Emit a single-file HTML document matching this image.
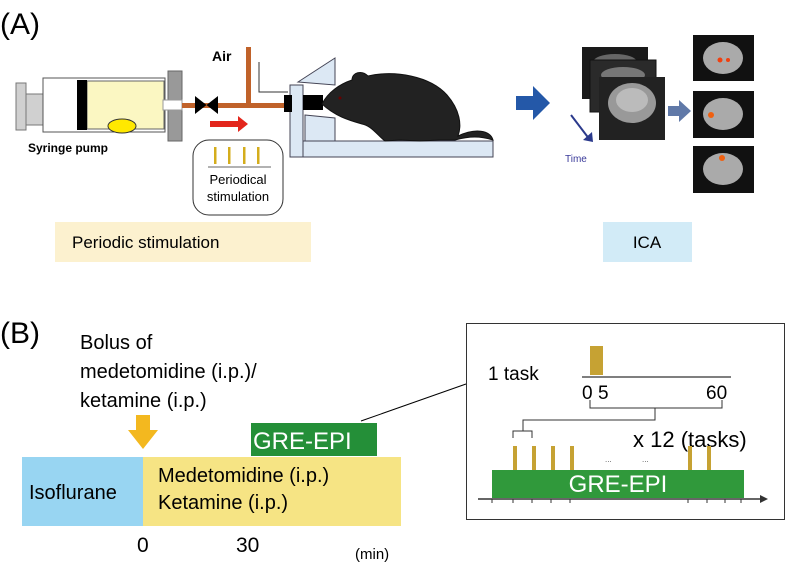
<!DOCTYPE html>
<html><head><meta charset="utf-8"><style>
body{margin:0;background:#fff}
svg{display:block}
text{font-family:"Liberation Sans",Arial,sans-serif}
</style></head><body>
<svg width="788" height="567" viewBox="0 0 788 567" xmlns="http://www.w3.org/2000/svg">
<text x="0" y="34" font-size="30">(A)</text>
<rect x="16" y="83" width="10" height="47" fill="#d0d0d0" stroke="#777"/>
<rect x="26" y="94" width="52" height="31" fill="#d0d0d0" stroke="#777"/>
<rect x="43" y="78" width="122" height="54" fill="#fff" stroke="#555"/>
<rect x="87" y="81" width="77" height="48" fill="#fbf7c2" stroke="#666"/>
<rect x="77" y="80" width="10" height="50" fill="#000"/>
<ellipse cx="122" cy="126" rx="14" ry="7" fill="#ffe800" stroke="#333"/>
<rect x="168" y="71" width="14" height="70" fill="#999" stroke="#666"/>
<rect x="163" y="100" width="19" height="10" fill="#fff" stroke="#999"/>
<text x="28" y="152" font-size="12" font-weight="bold">Syringe pump</text>
<rect x="182" y="103" width="106" height="5" fill="#c0622a"/>
<rect x="246" y="47" width="5" height="58" fill="#c0622a"/>
<polygon points="195,96 195,114 218,96 218,114" fill="#000"/>
<text x="212" y="61" font-size="14" font-weight="bold">Air</text>
<polyline points="259,62 259,92 288,92" fill="none" stroke="#333" stroke-width="1"/>
<polygon points="210,121 238,121 238,116 248,124 238,132 238,127 210,127" fill="#e3261c"/>
<rect x="193" y="140" width="90" height="75" rx="16" fill="#fff" stroke="#333"/>
<g fill="#d4ad1c"><rect x="214" y="147" width="2.5" height="17"/><rect x="228" y="147" width="2.5" height="17"/><rect x="243" y="147" width="2.5" height="17"/><rect x="257" y="147" width="2.5" height="17"/></g>
<line x1="208" y1="167" x2="271" y2="167" stroke="#333" stroke-width="0.8"/>
<text x="238" y="184" font-size="13" text-anchor="middle">Periodical</text>
<text x="238" y="201" font-size="13" text-anchor="middle">stimulation</text>
<polygon points="298,82 335,58 335,85" fill="#dce8f4" stroke="#445"/>
<polygon points="305,115 335,118 335,141 305,141" fill="#dce8f4" stroke="#445"/>
<rect x="290" y="141" width="203" height="16" fill="#dce8f4" stroke="#445"/>
<rect x="290" y="85" width="13" height="72" fill="#dce8f4" stroke="#445"/>
<rect x="284" y="95" width="8" height="17" fill="#000"/>
<rect x="303" y="95" width="20" height="15" fill="#000"/>
<path d="M322,104 C328,92 340,84 352,80 C352,72 362,70 368,76 C395,70 430,76 447,95 C460,110 462,125 458,136 C475,128 490,130 493,140 C480,136 470,136 455,140 L440,140 L420,141 L400,140 L385,141 C378,136 372,126 362,124 C348,120 335,116 322,104 Z" fill="#222" stroke="#111"/>
<circle cx="340" cy="98" r="1.5" fill="#600"/>
<polygon points="516,96 533,96 533,86 550,103 533,120 533,110 516,110" fill="#2458a8"/>
<rect x="582" y="47" width="66" height="52" fill="#1a1a1a"/>
<ellipse cx="615" cy="62" rx="22" ry="8" fill="#666"/>
<rect x="590" y="60" width="66" height="52" fill="#2a2a2a" stroke="#111"/>
<ellipse cx="623" cy="75" rx="22" ry="8" fill="#777"/>
<rect x="599" y="77" width="66" height="63" fill="#222"/>
<ellipse cx="632" cy="103" rx="24" ry="20" fill="#999"/>
<ellipse cx="632" cy="100" rx="16" ry="12" fill="#bbb"/>
<line x1="571" y1="115" x2="590" y2="140" stroke="#2b3a8c" stroke-width="2"/>
<polygon points="583,140 593,142 592,132" fill="#2b3a8c"/>
<text x="565" y="162" font-size="10" fill="#3a3a9a">Time</text>
<polygon points="668,106 679,106 679,100 691,111 679,122 679,116 668,116" fill="#6079a8"/>
<g>
<rect x="693" y="35" width="61" height="46" fill="#111"/><ellipse cx="723" cy="58" rx="20" ry="16" fill="#aaa"/><circle cx="720" cy="60" r="2.5" fill="#f04010"/><circle cx="728" cy="60" r="2" fill="#f04010"/>
<rect x="693" y="91" width="61" height="47" fill="#111"/><ellipse cx="723" cy="114" rx="20" ry="16" fill="#aaa"/><circle cx="711" cy="115" r="3" fill="#f06010"/>
<rect x="693" y="146" width="61" height="47" fill="#111"/><ellipse cx="723" cy="169" rx="20" ry="16" fill="#aaa"/><circle cx="722" cy="158" r="3" fill="#f06010"/>
</g>
<rect x="55" y="222" width="256" height="40" fill="#fcf1cf"/>
<text x="72" y="248" font-size="17">Periodic stimulation</text>
<rect x="603" y="222" width="89" height="40" fill="#d2ebf7"/>
<text x="647" y="248" font-size="17" text-anchor="middle">ICA</text>
<text x="0" y="343" font-size="30">(B)</text>
<text x="80" y="349" font-size="20">Bolus of</text>
<text x="80" y="378" font-size="20">medetomidine (i.p.)/</text>
<text x="80" y="407" font-size="20">ketamine (i.p.)</text>
<polygon points="136,415 150,415 150,430 158,430 143,449 128,430 136,430" fill="#f3b81f"/>
<rect x="22" y="457" width="121" height="69" fill="#98d5f2"/>
<rect x="143" y="457" width="258" height="69" fill="#f6e484"/>
<text x="29" y="499" font-size="20">Isoflurane</text>
<text x="158" y="482" font-size="20">Medetomidine (i.p.)</text>
<text x="158" y="509" font-size="20">Ketamine (i.p.)</text>
<rect x="251" y="423" width="126" height="33" fill="#248f38"/>
<text x="253" y="449" font-size="24" fill="#fff">GRE-EPI</text>
<text x="137" y="552" font-size="21">0</text>
<text x="236" y="552" font-size="21">30</text>
<text x="355" y="559" font-size="15">(min)</text>
<line x1="361" y1="421" x2="466" y2="384" stroke="#000" stroke-width="1"/>
<rect x="466.5" y="323.5" width="318" height="196" fill="#fff" stroke="#333"/>
<text x="488" y="380" font-size="19">1 task</text>
<rect x="590" y="346" width="13" height="29" fill="#c6a233"/>
<line x1="582" y1="377" x2="731" y2="377" stroke="#333" stroke-width="1.2"/>
<text x="582" y="399" font-size="19">0</text><text x="598" y="399" font-size="19">5</text><text x="706" y="399" font-size="19">60</text>
<polyline points="590,400 590,408 722,408 722,400" fill="none" stroke="#333"/>
<polyline points="655,408 655,420 523,420 523,431" fill="none" stroke="#333"/>
<polyline points="513,438 513,431 532,431 532,438" fill="none" stroke="#333"/>
<text x="633" y="447" font-size="22">x 12 (tasks)</text>
<g fill="#c6a233"><rect x="513" y="446" width="4" height="24"/><rect x="532" y="446" width="4" height="24"/><rect x="551" y="446" width="4" height="24"/><rect x="570" y="446" width="4" height="24"/><rect x="688" y="446" width="4" height="24"/><rect x="707" y="446" width="4" height="24"/></g>
<text x="605" y="462" font-size="8" fill="#555">...</text><text x="642" y="462" font-size="8" fill="#555">...</text>
<rect x="492" y="470" width="252" height="28" fill="#30993b"/>
<text x="618" y="492" font-size="24" fill="#fff" text-anchor="middle">GRE-EPI</text>
<line x1="478" y1="499" x2="762" y2="499" stroke="#333" stroke-width="1.5"/>
<g stroke="#333" stroke-width="1"><line x1="492" y1="499" x2="492" y2="503"/><line x1="513" y1="499" x2="513" y2="503"/><line x1="532" y1="499" x2="532" y2="503"/><line x1="551" y1="499" x2="551" y2="503"/><line x1="570" y1="499" x2="570" y2="503"/><line x1="688" y1="499" x2="688" y2="503"/><line x1="707" y1="499" x2="707" y2="503"/><line x1="725" y1="499" x2="725" y2="503"/><line x1="741" y1="499" x2="741" y2="503"/></g>
<polygon points="760,495 768,499 760,503" fill="#333"/>
</svg>
</body></html>
